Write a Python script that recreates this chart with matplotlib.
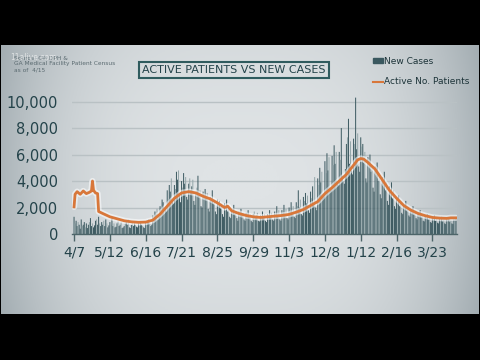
import numpy as np
import matplotlib
matplotlib.use('Agg')
import matplotlib.pyplot as plt
import pandas as pd

# daily new cases, one row per week starting Tue 4/7/2020
new_cases = [
    1300, 800, 1000, 600, 900, 700, 400,
    1100, 600, 700, 900, 500, 800, 450,
    700, 900, 1200, 600, 800, 500, 650,
    1000, 1100, 700, 1300, 800, 600, 900,
    700, 1000, 600, 1100, 800, 500, 650,
    900, 700, 1200, 600, 800, 500, 550,
    800, 1000, 600, 700, 900, 450, 500,
    600, 800, 900, 700, 1100, 500, 450,
    700, 900, 600, 800, 700, 550, 500,
    800, 650, 900, 700, 600, 500, 450,
    900, 700, 1000, 1100, 800, 600, 700,
    1400, 1200, 1700, 1500, 1900, 1100, 1300,
    2100, 1800, 2600, 2400, 1500, 1900, 1700,
    3300, 2600, 3700, 3200, 4200, 2500, 2300,
    3700, 3400, 4700, 4100, 4800, 3000, 2400,
    4000, 3500, 4600, 3800, 4300, 2800, 2600,
    3800, 4200, 3300, 3600, 4100, 2500, 2200,
    3100, 3500, 4400, 2900, 3300, 2100, 2000,
    3200, 2800, 3400, 2700, 3100, 1900, 1700,
    2800, 2500, 3300, 2300, 2600, 1700, 1500,
    2600, 2200, 2500, 2000, 2300, 1500, 1300,
    2300, 1800, 2600, 1700, 2000, 1300, 1200,
    1900, 1600, 2200, 1500, 1700, 1200, 1000,
    1700, 1500, 1900, 1400, 1600, 1100, 1000,
    1600, 1300, 1800, 1300, 1500, 1000, 900,
    1500, 1700, 1200, 1400, 1600, 1000, 950,
    1400, 1300, 1700, 1200, 1500, 1000, 900,
    1500, 1400, 1800, 1300, 1600, 1100, 1000,
    1700, 1500, 2100, 1400, 1800, 1100, 1000,
    1800, 1600, 2200, 1500, 1900, 1200, 1100,
    2000, 1700, 2400, 1600, 2100, 1300, 1200,
    2400, 2100, 3300, 2000, 2600, 1500, 1400,
    2800, 2500, 3100, 2300, 2900, 1800, 1600,
    3200, 2700, 3600, 2200, 4300, 2000, 1800,
    4200, 3700, 5000, 3900, 4700, 2900, 2800,
    5500, 4600, 6100, 4800, 5800, 3500, 3300,
    5900, 5200, 6700, 5300, 6200, 4000, 3700,
    6200, 5600, 8000, 4400, 4000, 3800, 4900,
    6800, 7300, 8700, 5300, 7000, 4800, 4500,
    7200, 6800, 10300, 6400, 7600, 5100, 4700,
    7300, 6600, 6800, 5400, 6200, 4200, 3900,
    5800, 5200, 6000, 4700, 5100, 3500, 3200,
    5100, 4500, 5400, 4000, 4600, 3000, 2700,
    4300, 3800, 4700, 3300, 3900, 2500, 2200,
    3600, 3100, 3900, 2700, 3300, 2100, 1900,
    2600, 2300, 2900, 2100, 2500, 1600, 1500,
    2200, 1900, 2500, 1800, 2100, 1400, 1300,
    1900, 1700, 2100, 1500, 1800, 1200, 1100,
    1600, 1400, 1800, 1300, 1500, 1000, 950,
    1400, 1200, 1500, 1100, 1300, 900, 850,
    1300, 1100, 1400, 1000, 1200, 850, 800,
    1200, 1000, 1300, 950, 1100, 800, 750,
    1100, 1000, 1200, 900, 1050, 800, 750,
    1100, 950, 1150,
]
case_dates = pd.date_range('2020-04-07', periods=len(new_cases), freq='D')

active_dates = [
    '2020-04-07', '2020-04-08', '2020-04-10', '2020-04-13', '2020-04-16', '2020-04-19',
    '2020-04-22', '2020-04-24', '2020-04-25', '2020-04-26', '2020-04-28', '2020-04-30',
    '2020-05-01', '2020-05-05', '2020-05-12', '2020-05-19', '2020-05-26', '2020-06-02',
    '2020-06-09', '2020-06-16', '2020-06-23', '2020-06-30', '2020-07-07', '2020-07-14',
    '2020-07-21', '2020-07-28', '2020-08-04', '2020-08-11', '2020-08-18', '2020-08-25',
    '2020-09-01', '2020-09-04', '2020-09-08', '2020-09-15', '2020-09-22', '2020-09-29',
    '2020-10-06', '2020-10-13', '2020-10-20', '2020-10-27', '2020-11-03', '2020-11-10',
    '2020-11-17', '2020-11-24', '2020-12-01', '2020-12-08', '2020-12-15', '2020-12-22',
    '2020-12-29', '2021-01-05', '2021-01-09', '2021-01-12', '2021-01-15', '2021-01-19',
    '2021-01-26', '2021-02-02', '2021-02-09', '2021-02-16', '2021-02-23', '2021-03-02',
    '2021-03-09', '2021-03-16', '2021-03-23', '2021-03-30', '2021-04-06', '2021-04-10',
    '2021-04-15',
]
active_patients = [
    2050, 3000, 3200, 3000, 3250, 3050,
    3150, 3250, 4000, 3300, 3100, 3050,
    1700, 1550, 1300, 1150, 1000, 920,
    880, 900, 1050, 1500, 2100, 2700,
    3100, 3200, 3100, 2850, 2650, 2350,
    2000, 2100, 1750, 1550, 1400, 1300,
    1250, 1300, 1350, 1400, 1480, 1650,
    1850, 2150, 2450, 3050, 3500, 4000,
    4500, 5200, 5600, 5700, 5650, 5400,
    4900, 4100, 3300, 2700, 2150, 1800,
    1550, 1380, 1250, 1200, 1180, 1220,
    1220,
]
active_dates = pd.to_datetime(active_dates)

tick_dates = pd.to_datetime(['2020-04-07', '2020-05-12', '2020-06-16', '2020-07-21',
                             '2020-08-25', '2020-09-29', '2020-11-03', '2020-12-08',
                             '2021-01-12', '2021-02-16', '2021-03-23'])
tick_labels = ['4/7', '5/12', '6/16', '7/21', '8/25', '9/29', '11/3', '12/8',
               '1/12', '2/16', '3/23']
y_ticks = [0, 2000, 4000, 6000, 8000, 10000]
y_labels = ['0', '2,000', '4,000', '6,000', '8,000', '10,000']

dark = '#3a585f'
light = '#93a6a9'
orange = '#d8773a'
text_col = '#24434a'

fig = plt.figure(figsize=(4.8, 3.6), dpi=100, facecolor='black')

# light panel with soft gradient
bg = fig.add_axes([1/480, (360-314)/360, 478/480, (314-45)/360])
xx = np.linspace(-1, 1, 300)
yy = np.linspace(-1, 1, 200)
X, Y = np.meshgrid(xx, yy)
grad = 1 - 0.55 * np.abs(X) ** 3 - 0.1 * Y ** 2
bg.imshow(grad, cmap=matplotlib.colors.LinearSegmentedColormap.from_list(
    'p', ['#a3adb2', '#dfe3e5']), aspect='auto', extent=[0, 1, 0, 1], vmin=0.35, vmax=1)
bg.set_axis_off()

ax = fig.add_axes([72/480, (360-234)/360, 385/480, (234-91)/360])
ax.patch.set_alpha(0)
for s in ['top', 'right', 'left']:
    ax.spines[s].set_visible(False)
ax.spines['bottom'].set_color('#4d6569')
ax.spines['bottom'].set_linewidth(1)

bar_cols = [dark if (i % 7) in (0, 2, 3, 5, 6) else light for i in range(len(new_cases))]
ax.bar(case_dates, new_cases, width=0.95, color=bar_cols, linewidth=0, zorder=2,
       snap=False)

ax.plot(active_dates, active_patients, color='white', lw=4.5, alpha=0.55, zorder=3,
        solid_capstyle='round')
ax.plot(active_dates, active_patients, color=orange, lw=2, zorder=4)

ax.set_xlim(pd.Timestamp('2020-04-05'), pd.Timestamp('2021-04-16'))
ax.set_ylim(0, 10800)
ax.set_yticks(y_ticks)
ax.set_yticklabels(y_labels)
ax.set_xticks(tick_dates)
ax.set_xticklabels(tick_labels)
ax.tick_params(axis='y', length=0, pad=10, labelsize=10.5, labelcolor=text_col)
ax.tick_params(axis='x', length=5, width=1, color='#4d6569', pad=3, labelsize=10,
               labelcolor=text_col)
for y in y_ticks[1:]:
    ax.axhline(y, color='#b9c1c4', lw=1, zorder=1)

# title box
fig.text(234/480, 1 - 70/360, 'ACTIVE PATIENTS VS NEW CASES', ha='center', va='center',
         fontsize=8, color=text_col,
         bbox=dict(boxstyle='square,pad=0.3', fc='none', ec='#2f5b5e', lw=1.5))

# legend
fig.patches.append(plt.Rectangle((373/480, 1 - 63/360), 10/480, 5/360,
                                 transform=fig.transFigure, color=dark))
fig.lines.append(plt.Line2D([373/480, 383/480], [1 - 82/360, 1 - 82/360],
                            transform=fig.transFigure, color=orange, lw=1.5))
fig.text(384/480, 1 - 61/360, 'New Cases', fontsize=6.5, color='#1d3439', va='center')
fig.text(384/480, 1 - 82/360, 'Active No. Patients', fontsize=6.5, color='#1d3439',
         va='center')

# source note
fig.text(14/480, 1 - 64/360,
         'Source: GA DPH &\nGA Medical Facility Patient Census\nas of  4/15',
         fontsize=4.2, color='#5a6a70', va='center', linespacing=1.2)
fig.text(10/480, 1 - 57/360, '11alive.com', fontsize=5.5, color='white', alpha=0.6,
         va='center')

fig.savefig('out.png', dpi=100, facecolor='black')
